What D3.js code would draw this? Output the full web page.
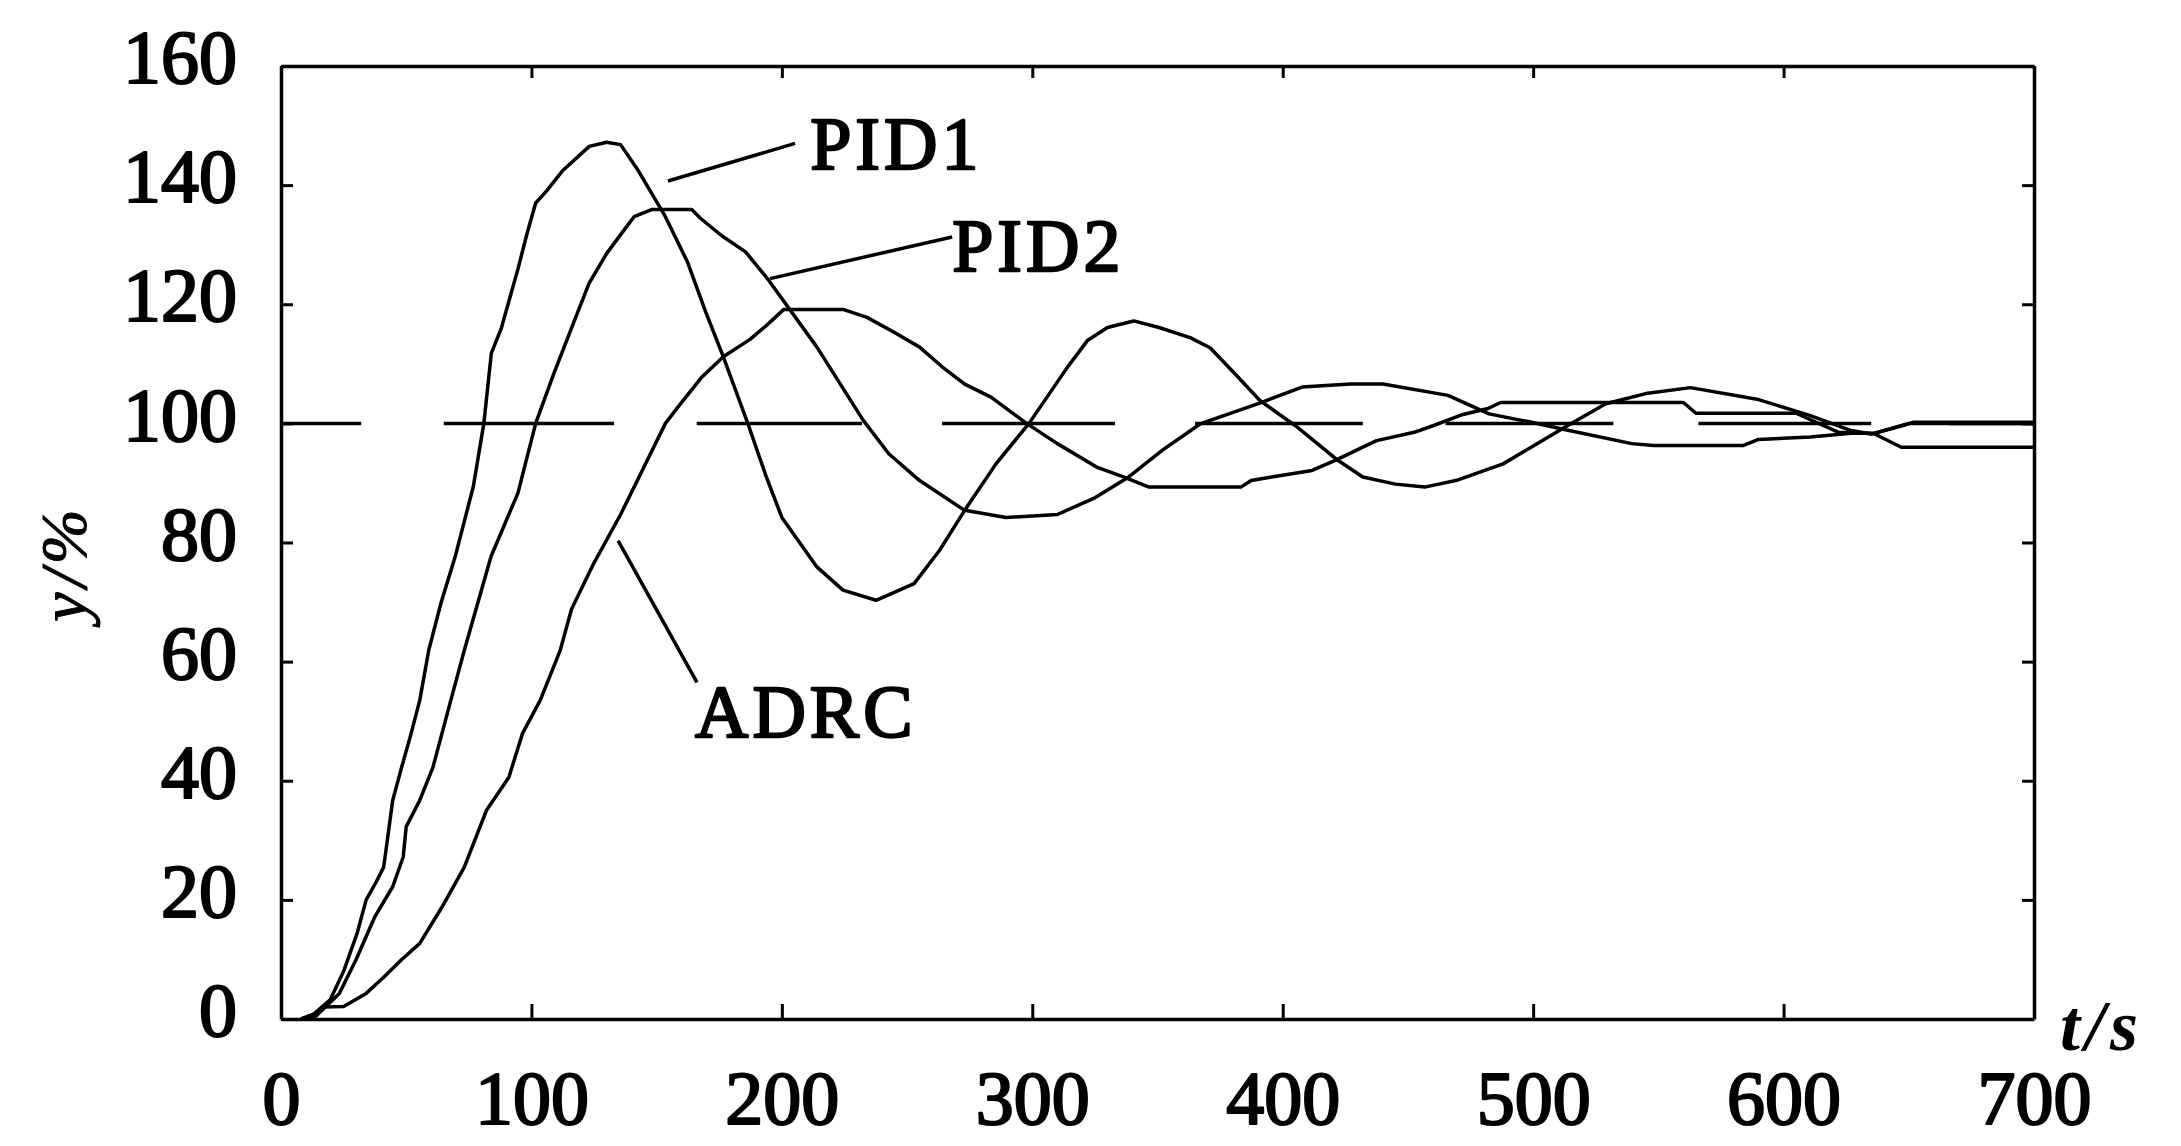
<!DOCTYPE html>
<html>
<head>
<meta charset="utf-8">
<script src="https://cdn.jsdelivr.net/npm/d3@7"></script>
<style>
  html, body { margin: 0; padding: 0; background: #fff; }
  svg { display: block; }
  text { font-family: "Liberation Serif", "DejaVu Serif", serif; fill: #000; }
</style>
</head>
<body>
<svg id="chart" width="2181" height="1146"></svg>
<script>
// ---- data ----
const xTicks = [0, 100, 200, 300, 400, 500, 600, 700];
const yTicks = [0, 20, 40, 60, 80, 100, 120, 140, 160];
const xLabel = "t/s";
const yLabel = "y/%";

const pid1T = [8,13,19.6,25,30.4,34,38,41,44.6,48.2,52,55.4,59,64,69.6,76.8,81,84,88,94.6,98.2,101.7,106,112.4,123.1,130,135.6,142.7,153.5,162.3,169.5,176.6,186.4,193.8,200,214,224.4,237.6,252.8,263,273,285.5,298.7,314,322,330,340.5,350.6,363,371,381,391,405.7,422,432,445,456.7,470,488,512.8,529,545,562.8,590,610.7,627,635,647.4,652,700];
const pid1Y = [0,0.8,3.2,8,14.4,20,23,25.5,36.7,42.3,48,53.5,61.9,70,77.7,89.4,100,111.8,116,125.9,131.8,137,139,142.4,146.5,147.2,146.8,142.4,134.7,127.1,118.8,111.2,100,91,84.2,75.9,72,70.3,73.1,78.7,85.4,93.2,100,109.4,113.9,116.1,117.2,116.1,114.4,112.7,108.3,103.8,99.4,93.8,91,89.8,89.3,90.5,93.2,99.4,103.3,105,106,104,101.3,98.8,98.2,99.6,100.2,100.2];

const pid2T = [8,14,23.3,30,37.5,44.6,48.8,50,55.4,60.7,67.8,73.2,83.9,94.6,101.7,108.9,116,123,130,137.4,141,148,164,167.6,176,185.5,194.8,214,232.5,242.7,255,273,289.5,310,325,338.5,352,367,391.4,407.7,427,440,466,482.4,498,512,539.4,548,584,590,610.7,628,636,647,700];
const pid2Y = [0,0.5,4.3,10,17.2,22.2,27.2,32.3,36.7,42.3,53.5,61.9,77.7,88.3,100,108.3,116,123.5,128.5,132.7,134.7,135.9,135.9,134.4,131.5,128.8,124,112.8,100.5,94.9,90.4,85.4,84.2,84.7,87.5,91,95.5,99.9,103.5,106.1,106.6,106.6,104.7,101.6,100.3,99,96.6,96.3,96.3,97.3,97.7,98.4,98.3,96,96];

const adrcT = [8,12,17,25,34,41,48,55.4,64.3,73.2,82,91,96.4,103.5,111.5,116,124.9,135.6,144.5,153.5,158.8,167.7,176.6,187.3,194,200.7,224.7,234,244.8,255,264,273,283.5,297.7,310,326,336.4,346.6,383.3,387.4,395.6,411.7,421,432,437.5,452.5,460,472,482,487,560,565,605,622,636,650,700];
const adrcY = [0,0.5,2,2.1,4.3,7,9.9,12.7,18.8,25.5,35,40.6,47.9,53.5,61.9,68.8,76.5,84.7,92.3,100,102.9,107.6,111.2,114.1,116.5,119.1,119.1,117.8,115.3,112.8,109.5,106.6,104.4,100,96.6,92.6,91,89.3,89.3,90.4,91,92.1,93.8,96,97.1,98.5,99.6,101.5,102.5,103.5,103.5,101.7,101.7,98.5,98.3,100,100];

// dashed set-point line (y = 100): visible dash spans in t
const setpoint = 100;
const setpointDashes = [[0,32],[65,133],[166,232],[264,333],[365,432],[465,532],[566,635],[666,700]];

// curve labels with leader lines (in data units)
const labelNames = ["PID1", "PID2", "ADRC"];
const labelAt = [[211.3, 142.7], [268, 125.6], [165.3, 47.3]];
const leaderFrom = [[154.5, 140.7], [195.3, 124.3], [134.6, 80.3]];
const leaderTo = [[205.3, 147.0], [268, 131.3], [166.1, 56.5]];

// ---- drawing ----
const svg = d3.select("#chart");
const W = 2181, H = 1146;
const L = 281, R = 2034, T = 66, B = 1019;

svg.append("rect").attr("width", W).attr("height", H).attr("fill", "#fff");

const x = d3.scaleLinear().domain([0, 700]).range([L, R]);
const y = d3.scaleLinear().domain([0, 160]).range([B, T]);

const axisStroke = 3.5;
function styleAxis(g) {
  g.selectAll("path.domain").attr("stroke", "#000").attr("stroke-width", axisStroke);
  g.selectAll(".tick line").attr("stroke", "#000").attr("stroke-width", 3);
}
function styleTickText(sel) {
  sel.attr("font-family", "Liberation Serif").attr("font-size", 76)
    .attr("fill", "#000").attr("stroke", "#000").attr("stroke-width", 2.2)
    .attr("stroke-linejoin", "round");
}

// left axis with labels
const gL = svg.append("g").attr("transform", `translate(${L},0)`)
  .call(d3.axisLeft(y).tickValues(yTicks).tickFormat(d3.format("d")).tickSizeInner(-12).tickSizeOuter(0).tickPadding(44));
styleAxis(gL);
styleTickText(gL.selectAll(".tick text").attr("dy", "0.22em"));

// bottom axis with labels
const gB = svg.append("g").attr("transform", `translate(0,${B})`)
  .call(d3.axisBottom(x).tickValues(xTicks).tickFormat(d3.format("d")).tickSizeInner(-15).tickSizeOuter(0).tickPadding(51));
styleAxis(gB);
styleTickText(gB.selectAll(".tick text"));

// top axis (ticks only)
const gT = svg.append("g").attr("transform", `translate(0,${T})`)
  .call(d3.axisTop(x).tickValues(xTicks).tickFormat("").tickSizeInner(-12).tickSizeOuter(0));
styleAxis(gT);

// right axis (ticks only)
const gR = svg.append("g").attr("transform", `translate(${R},0)`)
  .call(d3.axisRight(y).tickValues(yTicks).tickFormat("").tickSizeInner(-12).tickSizeOuter(0));
styleAxis(gR);

// axis titles
svg.append("text")
  .attr("x", 2060).attr("y", 1050)
  .attr("font-size", 72).attr("font-style", "italic").attr("font-weight", "bold")
  .attr("letter-spacing", 5)
  .text(xLabel);

svg.append("text")
  .attr("transform", `translate(86,${563}) rotate(-90)`)
  .attr("text-anchor", "middle")
  .attr("font-size", 66).attr("font-style", "italic")
  .attr("stroke", "#000").attr("stroke-width", 1)
  .attr("letter-spacing", 5)
  .text(yLabel);

// set-point dashed line
svg.append("g").selectAll("line").data(setpointDashes).join("line")
  .attr("x1", d => x(d[0])).attr("x2", d => x(d[1]))
  .attr("y1", y(setpoint)).attr("y2", y(setpoint))
  .attr("stroke", "#000").attr("stroke-width", 3.5);

// curves
const series = [
  { t: pid1T, v: pid1Y },
  { t: pid2T, v: pid2Y },
  { t: adrcT, v: adrcY }
];
const line = d3.line().x(d => x(d[0])).y(d => y(d[1])).curve(d3.curveLinear);
svg.append("g").selectAll("path").data(series).join("path")
  .attr("d", s => line(s.t.map((t, i) => [t, s.v[i]])))
  .attr("fill", "none").attr("stroke", "#000").attr("stroke-width", 3.5)
  .attr("stroke-linejoin", "round");

// leader lines and labels
svg.append("g").selectAll("line").data(labelNames.map((n, i) => i)).join("line")
  .attr("x1", i => x(leaderFrom[i][0])).attr("y1", i => y(leaderFrom[i][1]))
  .attr("x2", i => x(leaderTo[i][0])).attr("y2", i => y(leaderTo[i][1]))
  .attr("stroke", "#000").attr("stroke-width", 3.5);

svg.append("g").selectAll("text").data(labelNames).join("text")
  .attr("x", (d, i) => x(labelAt[i][0])).attr("y", (d, i) => y(labelAt[i][1]))
  .attr("font-size", 74).attr("letter-spacing", 4)
  .attr("stroke", "#000").attr("stroke-width", 2.4).attr("stroke-linejoin", "round")
  .text(d => d);
</script>
</body>
</html>
